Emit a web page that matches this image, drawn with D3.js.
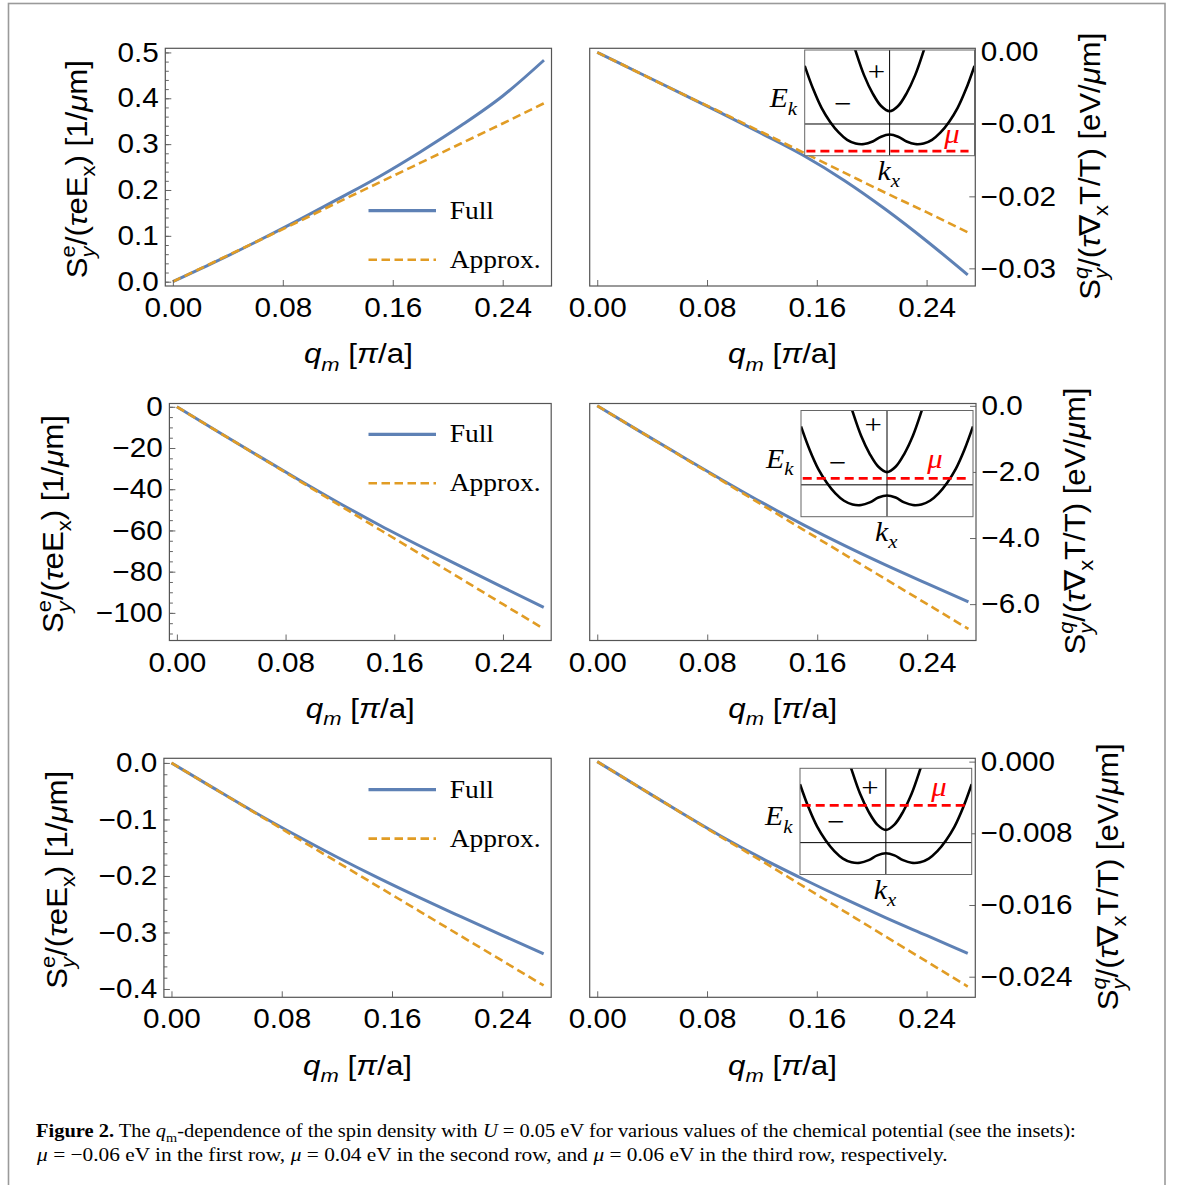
<!DOCTYPE html>
<html>
<head>
<meta charset="utf-8">
<script src="https://cdn.jsdelivr.net/npm/d3@7"></script>
<style>
  body { margin: 0; background: #fff; }
  svg { display: block; }
</style>
</head>
<body>
<svg id="fig" width="1182" height="1185"></svg>
<script>
// ---- data ----
const qVals = [0, 0.03, 0.06, 0.09, 0.12, 0.15, 0.18, 0.21, 0.24, 0.27];
const xTicks = [0, 0.08, 0.16, 0.24];

// row 1, mu = -0.06 eV
const fullE1   = [0, 0.042, 0.086, 0.132, 0.180, 0.229, 0.283, 0.341, 0.405, 0.483];
const approxE1 = [0, 0.043, 0.086, 0.129, 0.173, 0.216, 0.259, 0.302, 0.345, 0.389];
const fullQ1   = [0, -0.0028, -0.0056, -0.0084, -0.0113, -0.0143, -0.0178, -0.0218, -0.0262, -0.0309];
const approxQ1 = [0, -0.0028, -0.0056, -0.0083, -0.0111, -0.0139, -0.0167, -0.0195, -0.0222, -0.0250];
// row 2, mu = 0.04 eV
const fullE2   = [0, -12.0, -23.8, -35.5, -46.9, -57.7, -67.9, -77.8, -87.6, -97.3];
const approxE2 = [0, -12.0, -23.9, -35.9, -47.9, -59.9, -71.8, -83.8, -95.8, -107.7];
const fullQ2   = [0, -0.75, -1.49, -2.22, -2.93, -3.60, -4.23, -4.82, -5.38, -5.93];
const approxQ2 = [0, -0.75, -1.50, -2.25, -3.00, -3.75, -4.50, -5.25, -6.00, -6.75];
// row 3, mu = 0.06 eV
const fullE3   = [0, -0.0437, -0.0867, -0.1275, -0.1665, -0.2035, -0.2385, -0.2720, -0.3050, -0.3377];
const approxE3 = [0, -0.0438, -0.0875, -0.1313, -0.1750, -0.2188, -0.2625, -0.3063, -0.3500, -0.3938];
const fullQ3   = [0, -0.0028, -0.0056, -0.0083, -0.0108, -0.0131, -0.0153, -0.0174, -0.0194, -0.0214];
const approxQ3 = [0, -0.0028, -0.0056, -0.0084, -0.0111, -0.0139, -0.0167, -0.0195, -0.0223, -0.0251];

const yTicksE1 = [0, 0.1, 0.2, 0.3, 0.4, 0.5];
const yTicksQ1 = [0, -0.01, -0.02, -0.03];
const yTicksE2 = [0, -20, -40, -60, -80, -100];
const yTicksQ2 = [0, -2, -4, -6];
const yTicksE3 = [0, -0.1, -0.2, -0.3, -0.4];
const yTicksQ3 = [0, -0.008, -0.016, -0.024];

// inset band sketch (schematic units, E = 0 on the horizontal axis line)
const bandK     = [-1, -0.9, -0.8, -0.7, -0.6, -0.5, -0.4, -0.3, -0.2, -0.1, 0, 0.1, 0.2, 0.3, 0.4, 0.5, 0.6, 0.7, 0.8, 0.9, 1];
const bandMinus = [0.55, 0.33, 0.15, 0.02, -0.08, -0.15, -0.185, -0.19, -0.165, -0.12, -0.10, -0.12, -0.165, -0.19, -0.185, -0.15, -0.08, 0.02, 0.15, 0.33, 0.55];
const plusK     = [-0.5, -0.4, -0.3, -0.2, -0.1, 0, 0.1, 0.2, 0.3, 0.4, 0.5];
const bandPlus  = [0.95, 0.69, 0.46, 0.29, 0.17, 0.12, 0.17, 0.29, 0.46, 0.69, 0.95];
const muLevels  = [-0.256, 0.06, 0.35];

const BLUE = '#5e81b5', ORANGE = '#e19c24';
const SANS = 'Liberation Sans, Arial, sans-serif';
const SERIF = 'Liberation Serif, Times New Roman, serif';
const SX = 1.1;   // the reference picture is a bit stretched sideways
const xDomain = [-0.0055, 0.2755];

const svg = d3.select('#fig');

// outer box
svg.append('rect')
  .attr('x', 8.5).attr('y', 3.5).attr('width', 1156.5).attr('height', 1200)
  .attr('fill', 'none').attr('stroke', '#9a9a9a').attr('stroke-width', 1.6);

// lay out a label made of pieces (italic, sub/superscripts), returns its group
function rich(parent, pieces, size, family) {
  const g = parent.append('g');
  const inner = g.append('g');
  let x = 0, prevX = 0;
  pieces.forEach(p => {
    const small = p.sub || p.sup;
    const startX = p.stack ? prevX : x;
    const t = inner.append('text')
      .attr('x', startX)
      .attr('y', p.sub ? size * 0.28 : p.sup ? -size * 0.42 : 0)
      .attr('font-family', family)
      .attr('font-size', small ? size * 0.7 : size)
      .attr('font-style', p.it ? 'italic' : 'normal')
      .attr('font-weight', p.b ? 'bold' : 'normal')
      .style('white-space', 'pre')
      .text(p.t);
    const w = t.node().getComputedTextLength();
    prevX = startX;
    x = Math.max(x, startX + w);
  });
  return { g, inner };
}

// centre a rich label on (cx, cy), stretching it to a given length
function place(lab, cx, cy, len, rotated) {
  const b = lab.inner.node().getBBox();
  const k = len / b.width;
  const bx = b.x + b.width / 2, by = b.y + b.height / 2;
  if (rotated) {
    lab.g.attr('transform', `translate(${cx},${cy}) scale(${SX},1) rotate(-90) scale(${k},1) translate(${-bx},${-by})`);
  } else {
    lab.g.attr('transform', `translate(${cx},${cy}) scale(${k},1) translate(${-bx},${-by})`);
  }
}

function plainText(parent, str, x, y, opts) {
  return parent.append('text')
    .attr('transform', `translate(${x},${y}) scale(${SX},1)`)
    .attr('font-family', opts.family || SERIF)
    .attr('font-size', opts.size || 24)
    .attr('font-style', opts.it ? 'italic' : 'normal')
    .attr('text-anchor', opts.anchor || 'start')
    .attr('fill', opts.color || '#000')
    .text(str);
}

const leftLabel = [
  { t: 'S' }, { t: 'e', sup: 1 }, { t: 'y', sub: 1, it: 1, stack: 1 },
  { t: '/(' }, { t: 'τ', it: 1 }, { t: 'eE' }, { t: 'x', sub: 1 },
  { t: ') [1/' }, { t: 'μ', it: 1 }, { t: 'm]' }
];
const rightLabel = [
  { t: 'S' }, { t: 'q', sup: 1, it: 1 }, { t: 'y', sub: 1, it: 1, stack: 1 },
  { t: '/(' }, { t: 'τ', it: 1 }, { t: '∇' }, { t: 'x', sub: 1 },
  { t: 'T/T) [eV/' }, { t: 'μ', it: 1 }, { t: 'm]' }
];
const xLabel = [{ t: 'q', it: 1 }, { t: 'm', sub: 1, it: 1 }, { t: ' [' }, { t: 'π', it: 1 }, { t: '/a]' }];

const panels = [
  { x0: 165.3, x1: 551.5, y0: 48.3, y1: 286, yDomain: [-0.0094, 0.509], ticks: yTicksE1, minor: 0.02, fmt: '.1f',
    side: 'left', full: fullE1, approx: approxE1, legendY: 162.4, labX: 78.5 },
  { x0: 589.7, x1: 975.3, y0: 48.3, y1: 286, yDomain: [-0.03245, 0.00056], ticks: yTicksQ1, fmt: '.2f',
    side: 'right', full: fullQ1, approx: approxQ1, labX: 1091.5,
    inset: { x0: 804.7, x1: 974.5, y0: 50, y1: 155.7, mu: muLevels[0], plus: [876.5, 72], minus: [843, 104], muLab: [952, 137] } },
  { x0: 169.4, x1: 551.2, y0: 403.5, y1: 640.5, yDomain: [-113.4, 1.6], ticks: yTicksE2, minor: 5, fmt: 'd',
    side: 'left', full: fullE2, approx: approxE2, legendY: 30.8, labX: 54.5 },
  { x0: 589.7, x1: 976, y0: 403.5, y1: 640.5, yDomain: [-7.1, 0.07], ticks: yTicksQ2, fmt: '.1f',
    side: 'right', full: fullQ2, approx: approxQ2, labX: 1076,
    inset: { x0: 801, x1: 973, y0: 410.5, y1: 516.7, mu: muLevels[1], plus: [873.3, 425], minus: [837.7, 462.7], muLab: [935, 462] } },
  { x0: 163.9, x1: 551.2, y0: 758.3, y1: 997.3, yDomain: [-0.4147, 0.0082], ticks: yTicksE3, minor: 0.02, fmt: '.1f',
    side: 'left', full: fullE3, approx: approxE3, legendY: 31.3, labX: 58 },
  { x0: 589.7, x1: 975.3, y0: 758.3, y1: 997.3, yDomain: [-0.0263, 0.00037], ticks: yTicksQ3, fmt: '.3f',
    side: 'right', full: fullQ3, approx: approxQ3, labX: 1109,
    inset: { x0: 800, x1: 971.7, y0: 768.3, y1: 874.5, mu: muLevels[2], plus: [870, 787.7], minus: [836, 822], muLab: [939, 790] } }
];

function styleAxis(a) {
  a.attr('color', '#666').attr('font-family', SANS).attr('font-size', 27);
  a.select('.domain').remove();
  a.selectAll('line').attr('stroke-width', 1);
  a.selectAll('text').attr('fill', '#000').attr('transform', `scale(${SX},1)`);
}

panels.forEach(p => {
  const x = d3.scaleLinear().domain(xDomain).range([p.x0, p.x1]);
  const y = d3.scaleLinear().domain(p.yDomain).range([p.y1, p.y0]);
  const g = svg.append('g');

  const line = d3.line()
    .x((d, i) => x(qVals[i]))
    .y(d => y(d))
    .curve(d3.curveMonotoneX);

  g.append('path').attr('d', line(p.full))
    .attr('fill', 'none').attr('stroke', BLUE).attr('stroke-width', 3);
  g.append('path').attr('d', line(p.approx))
    .attr('fill', 'none').attr('stroke', ORANGE).attr('stroke-width', 2.6)
    .attr('stroke-dasharray', '8.5,4.5');

  // x axis (ticks point inward)
  const xa = g.append('g').attr('transform', `translate(0,${p.y1})`)
    .call(d3.axisBottom(x).tickValues(xTicks).tickSize(-6).tickPadding(12).tickFormat(d3.format('.2f')));
  styleAxis(xa);

  if (p.side === 'left') {
    const ya = g.append('g').attr('transform', `translate(${p.x0},0)`)
      .call(d3.axisLeft(y).tickValues(p.ticks).tickSize(-6).tickPadding(6).tickFormat(d3.format(p.fmt)));
    styleAxis(ya);
    const [lo, hi] = p.yDomain;
    const minors = d3.range(Math.ceil(lo / p.minor) * p.minor, hi, p.minor);
    const ym = g.append('g').attr('transform', `translate(${p.x0},0)`)
      .call(d3.axisLeft(y).tickValues(minors).tickSize(-3.5).tickFormat(''));
    styleAxis(ym);
  } else {
    const ya = g.append('g').attr('transform', `translate(${p.x1},0)`)
      .call(d3.axisRight(y).tickValues(p.ticks).tickSize(-6).tickPadding(5).tickFormat(d3.format(p.fmt)));
    styleAxis(ya);
  }

  // frame
  g.append('rect')
    .attr('x', p.x0).attr('y', p.y0).attr('width', p.x1 - p.x0).attr('height', p.y1 - p.y0)
    .attr('fill', 'none').attr('stroke', '#555').attr('stroke-width', 1.2);

  // axis labels
  place(rich(g, xLabel, 27, SANS), (p.x0 + p.x1) / 2, p.y1 + 71, 109, false);
  if (p.side === 'left') {
    place(rich(g, leftLabel, 26, SANS), p.labX, (p.y0 + p.y1) / 2 + 2, 218, true);
  } else {
    place(rich(g, rightLabel, 26, SANS), p.labX, (p.y0 + p.y1) / 2 - 1, 267, true);
  }

  // legend
  if (p.legendY !== undefined) {
    const ly = p.y0 + p.legendY;
    g.append('line').attr('x1', 368.5).attr('x2', 436).attr('y1', ly).attr('y2', ly)
      .attr('stroke', BLUE).attr('stroke-width', 3.2);
    g.append('line').attr('x1', 368.5).attr('x2', 436).attr('y1', ly + 49).attr('y2', ly + 49)
      .attr('stroke', ORANGE).attr('stroke-width', 2.6).attr('stroke-dasharray', '8.5,4.5');
    plainText(g, 'Full', 449.7, ly + 8, { size: 25 });
    plainText(g, 'Approx.', 449.7, ly + 57, { size: 25 });
  }

  if (p.inset) drawInset(p.inset);
});

function drawInset(ins) {
  const kx = d3.scaleLinear().domain([-1, 1]).range([ins.x0, ins.x1]);
  const ey = d3.scaleLinear().domain([-0.3, 0.7]).range([ins.y1, ins.y0]);
  const id = 'clip' + Math.round(ins.y0);
  const g = svg.append('g');

  g.append('clipPath').attr('id', id).append('rect')
    .attr('x', ins.x0).attr('y', ins.y0).attr('width', ins.x1 - ins.x0).attr('height', ins.y1 - ins.y0);

  g.append('rect')
    .attr('x', ins.x0).attr('y', ins.y0).attr('width', ins.x1 - ins.x0).attr('height', ins.y1 - ins.y0)
    .attr('fill', '#fff');

  const body = g.append('g').attr('clip-path', `url(#${id})`);
  // axes through the origin
  body.append('line').attr('x1', kx(-1)).attr('x2', kx(1)).attr('y1', ey(0)).attr('y2', ey(0))
    .attr('stroke', '#000').attr('stroke-width', 1);
  body.append('line').attr('x1', kx(0)).attr('x2', kx(0)).attr('y1', ey(-0.3)).attr('y2', ey(0.7))
    .attr('stroke', '#000').attr('stroke-width', 1);

  const band = (ks) => d3.line().x((d, i) => kx(ks[i])).y(d => ey(d)).curve(d3.curveCatmullRom);
  body.append('path').attr('d', band(bandK)(bandMinus))
    .attr('fill', 'none').attr('stroke', '#000').attr('stroke-width', 2.6);
  body.append('path').attr('d', band(plusK)(bandPlus))
    .attr('fill', 'none').attr('stroke', '#000').attr('stroke-width', 2.6);

  body.append('line').attr('x1', kx(-0.98)).attr('x2', kx(0.93)).attr('y1', ey(ins.mu)).attr('y2', ey(ins.mu))
    .attr('stroke', '#ff0000').attr('stroke-width', 2.8).attr('stroke-dasharray', '9,5');

  g.append('rect')
    .attr('x', ins.x0).attr('y', ins.y0).attr('width', ins.x1 - ins.x0).attr('height', ins.y1 - ins.y0)
    .attr('fill', 'none').attr('stroke', '#666').attr('stroke-width', 1);

  // labels
  const ek = rich(g, [{ t: 'E', it: 1 }, { t: 'k', sub: 1, it: 1 }], 27, SERIF);
  ek.g.attr('transform', `translate(${ins.x0 - 35},${ins.y0 + 57}) scale(${SX},1)`);
  const kxl = rich(g, [{ t: 'k', it: 1 }, { t: 'x', sub: 1, it: 1 }], 27, SERIF);
  kxl.g.attr('transform', `translate(${kx(0) - 12},${ins.y1 + 24}) scale(${SX},1)`);
  plainText(g, '+', ins.plus[0], ins.plus[1] + 9, { size: 28, anchor: 'middle' });
  plainText(g, '−', ins.minus[0], ins.minus[1] + 9, { size: 28, anchor: 'middle' });
  plainText(g, 'μ', ins.muLab[0], ins.muLab[1] + 6, { size: 28, it: 1, anchor: 'middle', color: '#ff0000' });
}

// caption
const cap1 = [
  { t: 'Figure 2.', b: 1 }, { t: ' The ' }, { t: 'q', it: 1 }, { t: 'm', sub: 1 },
  { t: '-dependence of the spin density with ' }, { t: 'U', it: 1 },
  { t: ' = 0.05 eV for various values of the chemical potential (see the insets):' }
];
const cap2 = [
  { t: 'μ', it: 1 }, { t: ' = −0.06 eV in the first row, ' }, { t: 'μ', it: 1 },
  { t: ' = 0.04 eV in the second row, and ' }, { t: 'μ', it: 1 },
  { t: ' = 0.06 eV in the third row, respectively.' }
];
function captionLine(pieces, x0, base, width) {
  const lab = rich(svg, pieces, 19, SERIF);
  const b = lab.inner.node().getBBox();
  lab.g.attr('transform', `translate(${x0},${base}) scale(${width / b.width},1) translate(${-b.x},0)`);
}
captionLine(cap1, 36, 1137, 1040);
captionLine(cap2, 36, 1161, 912);
</script>
</body>
</html>
